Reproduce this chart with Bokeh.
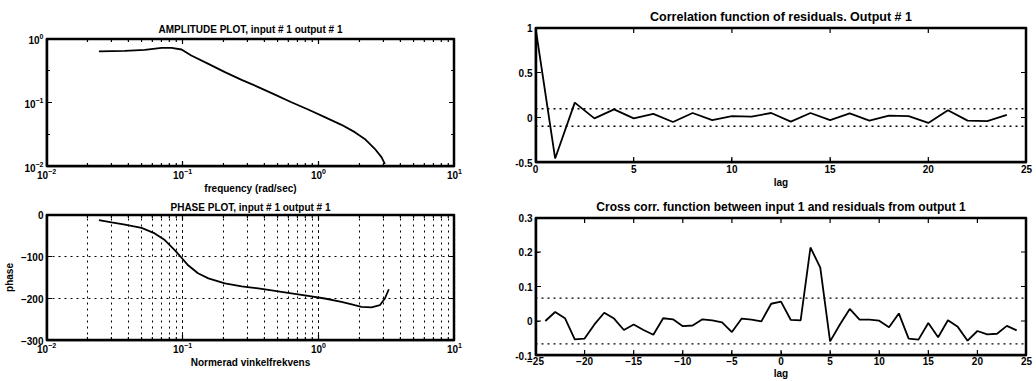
import math
from bokeh.plotting import figure
from bokeh.layouts import row, column
from bokeh.models import FixedTicker
from bokeh.embed import file_html
from bokeh.resources import INLINE

# ---------------- data ----------------
amp_freq = [0.0243, 0.0377, 0.0528, 0.0702, 0.083, 0.0984, 0.116, 0.155, 0.205, 0.272,
            0.361, 0.478, 0.632, 0.839, 1.112, 1.476, 1.849, 2.188, 2.594, 2.904, 3.076]
amp_mag = [0.627, 0.641, 0.665, 0.714, 0.714, 0.673, 0.542, 0.402, 0.298, 0.226,
           0.174, 0.133, 0.101, 0.0778, 0.059, 0.0448, 0.0344, 0.027, 0.0189, 0.014, 0.011]

ph_freq = [0.0243, 0.0301, 0.0377, 0.05, 0.0625, 0.0741, 0.0877, 0.0984, 0.110, 0.130,
           0.155, 0.205, 0.272, 0.361, 0.478, 0.632, 0.839, 1.112, 1.476, 1.849,
           2.07, 2.455, 2.825, 3.076, 3.289]
ph_deg = [-13.5, -19, -24, -32, -45, -61, -85, -103, -121, -140,
          -152, -164, -171, -176, -182, -188, -194, -200, -208, -216,
          -220, -221, -216, -200, -178]

corr_lag = list(range(0, 25))
corr_val = [1.0, -0.455, 0.165, -0.01, 0.09, -0.01, 0.04, -0.05, 0.05, -0.03,
            0.015, 0.01, 0.05, -0.045, 0.05, -0.03, 0.045, -0.035, 0.02, 0.015,
            -0.06, 0.08, -0.035, -0.04, 0.03]
corr_conf = 0.097

cross_lag = list(range(-24, 25))
cross_val = [0.0, 0.026, 0.008, -0.053, -0.051, -0.01, 0.024, 0.007, -0.026, -0.01,
             -0.026, -0.04, 0.008, 0.005, -0.015, -0.013, 0.005, 0.002, -0.004, -0.032,
             0.007, 0.004, -0.001, 0.05, 0.056, 0.003, 0.002, 0.213, 0.155, -0.059,
             -0.01, 0.035, 0.004, 0.004, 0.001, -0.018, 0.022, -0.051, -0.054, -0.006,
             -0.047, 0.002, -0.017, -0.057, -0.029, -0.039, -0.037, -0.014, -0.027]
cross_conf = 0.0665

# ranges and ticks
freq_range = (0.01, 10)
amp_range = (0.01, 1)
phase_range = (-300, 0)
corr_xrange = (0, 25)
corr_yrange = (-0.5, 1)
cross_xrange = (-25, 25)
cross_yrange = (-0.1, 0.3)

freq_ticks = [0.01, 0.1, 1, 10]
freq_minor = [m * d for d in (0.01, 0.1, 1) for m in range(2, 10)]
amp_yticks = [0.01, 0.1, 1]
amp_yminor = [0.0316, 0.316]
phase_yticks = [-300, -200, -100, 0]
corr_xticks = [0, 5, 10, 15, 20, 25]
corr_yticks = [-0.5, 0, 0.5, 1]
corr_ylabels = ["-0.5", "0", "0.5", "1"]
cross_xticks = [-25, -20, -15, -10, -5, 0, 5, 10, 15, 20, 25]
cross_yticks = [-0.1, 0, 0.1, 0.2, 0.3]
cross_ylabels = ["-0.1", "0", "0.1", "0.2", "0.3"]

FONT = "Liberation Sans"
FS = "10px"


def style_axis(ax, std=3, lstd=3):
    ax.axis_line_color = "black"
    ax.axis_line_width = 1.5
    ax.major_tick_in = 4
    ax.major_tick_out = 0
    ax.minor_tick_in = 2
    ax.minor_tick_out = 0
    ax.major_label_text_font = FONT
    ax.major_label_text_font_style = "bold"
    ax.major_label_text_font_size = FS
    ax.major_label_text_color = "black"
    ax.major_label_standoff = std
    ax.axis_label_text_font = FONT
    ax.axis_label_text_font_style = "bold"
    ax.axis_label_text_font_size = FS
    ax.axis_label_text_color = "black"
    ax.axis_label_standoff = lstd


def base_fig(title, title_size, standoff, **kw):
    p = figure(title=title, output_backend="svg", toolbar_location=None, **kw)
    p.title.align = "center"
    p.title.text_font = FONT
    p.title.text_font_style = "bold"
    p.title.text_font_size = title_size
    p.title.text_color = "black"
    p.title.standoff = standoff
    p.outline_line_color = "black"
    p.outline_line_width = 1.5
    return p


def shift(rng, px, npx, log, k):
    """Value that lies k screen pixels inside range end rng[0] (k>0) or rng[1] (k<0)."""
    lo, hi = rng
    if log:
        f = (hi / lo) ** (abs(k) / npx)
        return lo * f if k > 0 else hi / f
    d = (hi - lo) * abs(k) / npx
    return lo + d if k > 0 else hi - d


def add_frame(p, xr, yr, fw, fh, xlog, ylog, xmaj, ymaj, xmin=(), ymin=()):
    """Box just inside the frame edges and inward tick marks on all four sides."""
    x0 = shift(xr, 0, fw, xlog, 1)
    x1 = shift(xr, 0, fw, xlog, -1)
    y0 = shift(yr, 0, fh, ylog, 1)
    y1 = shift(yr, 0, fh, ylog, -1)
    p.line([x0, x1, x1, x0, x0], [y0, y0, y1, y1, y0], line_color="black", line_width=1.5)
    ty0 = (shift(yr, 0, fh, ylog, 3), shift(yr, 0, fh, ylog, -3))
    tx0 = (shift(xr, 0, fw, xlog, 3), shift(xr, 0, fw, xlog, -3))
    ty1 = (shift(yr, 0, fh, ylog, 2), shift(yr, 0, fh, ylog, -2))
    tx1 = (shift(xr, 0, fw, xlog, 2), shift(xr, 0, fw, xlog, -2))
    for vals, pos, size in ((list(xmaj), ty0, 5), (list(xmin), ty1, 3)):
        vals = [v for v in vals if xr[0] < v < xr[1]]
        if vals:
            for yv in pos:
                p.scatter(vals, [yv] * len(vals), marker="dash", size=size,
                          angle=math.pi / 2, line_color="black", line_width=1.2)
    for vals, pos, size in ((list(ymaj), tx0, 5), (list(ymin), tx1, 3)):
        vals = [v for v in vals if yr[0] < v < yr[1]]
        if vals:
            for xv in pos:
                p.scatter([xv] * len(vals), vals, marker="dash", size=size,
                          line_color="black", line_width=1.2)


# ---------------- amplitude ----------------
p1 = base_fig("AMPLITUDE PLOT, input # 1 output # 1", "10px", 8,
              x_axis_type="log", y_axis_type="log",
              x_range=freq_range, y_range=amp_range,
              frame_width=408, frame_height=128,
              min_border_left=45, min_border_right=47,
              min_border_top=38, min_border_bottom=29)
p1.grid.visible = False
p1.xaxis.axis_label = "frequency (rad/sec)"
p1.yaxis.ticker = FixedTicker(ticks=amp_yticks, minor_ticks=amp_yminor)
style_axis(p1.xaxis[0], std=1, lstd=1)
style_axis(p1.yaxis[0])
add_frame(p1, freq_range, amp_range, 408, 128, True, True,
          freq_ticks, amp_yticks, freq_minor, amp_yminor)
p1.line(amp_freq, amp_mag, line_color="black", line_width=1.8)

# ---------------- phase ----------------
p2 = base_fig("PHASE PLOT, input # 1 output # 1", "10px", 3,
              x_axis_type="log",
              x_range=freq_range, y_range=phase_range,
              frame_width=408, frame_height=126,
              min_border_left=45, min_border_right=47,
              min_border_top=18, min_border_bottom=34)
p2.xaxis.axis_label = "Normerad vinkelfrekvens"
p2.yaxis.axis_label = "phase"
p2.yaxis.ticker = FixedTicker(ticks=phase_yticks)
style_axis(p2.xaxis[0], std=1, lstd=1)
style_axis(p2.yaxis[0])
p2.xgrid.grid_line_color = "black"
p2.xgrid.grid_line_dash = "dotted"
p2.xgrid.minor_grid_line_color = "black"
p2.xgrid.minor_grid_line_dash = "dotted"
p2.ygrid.grid_line_color = "black"
p2.ygrid.grid_line_dash = "dotted"
add_frame(p2, freq_range, phase_range, 408, 126, True, False,
          freq_ticks, phase_yticks, freq_minor)
p2.line(ph_freq, ph_deg, line_color="black", line_width=1.8)

# ---------------- correlation ----------------
p3 = base_fig("Correlation function of residuals. Output # 1", "12.5px", 8,
              x_range=corr_xrange, y_range=corr_yrange,
              frame_width=491, frame_height=135,
              min_border_left=34, min_border_right=11,
              min_border_top=27, min_border_bottom=28)
p3.grid.visible = False
p3.xaxis.axis_label = "lag"
p3.xaxis.ticker = FixedTicker(ticks=corr_xticks)
p3.yaxis.ticker = FixedTicker(ticks=corr_yticks)
p3.yaxis.major_label_overrides = dict(zip(corr_yticks, corr_ylabels))
style_axis(p3.xaxis[0], std=2, lstd=1)
style_axis(p3.yaxis[0])
add_frame(p3, corr_xrange, corr_yrange, 491, 135, False, False, corr_xticks, corr_yticks)
p3.line(list(corr_xrange), [corr_conf, corr_conf], line_color="black", line_dash="dotted", line_width=1.3)
p3.line(list(corr_xrange), [-corr_conf, -corr_conf], line_color="black", line_dash="dotted", line_width=1.3)
p3.line(corr_lag, corr_val, line_color="black", line_width=1.8)

# ---------------- cross correlation ----------------
p4 = base_fig("Cross corr. function between input 1 and residuals from output 1", "12px", 8,
              x_range=cross_xrange, y_range=cross_yrange,
              frame_width=491, frame_height=138,
              min_border_left=34, min_border_right=11,
              min_border_top=27, min_border_bottom=24)
p4.grid.visible = False
p4.xaxis.axis_label = "lag"
p4.xaxis.ticker = FixedTicker(ticks=cross_xticks)
p4.yaxis.ticker = FixedTicker(ticks=cross_yticks)
p4.yaxis.major_label_overrides = dict(zip(cross_yticks, cross_ylabels))
style_axis(p4.xaxis[0], std=1, lstd=0)
style_axis(p4.yaxis[0])
add_frame(p4, cross_xrange, cross_yrange, 491, 138, False, False, cross_xticks, cross_yticks)
p4.line(list(cross_xrange), [cross_conf, cross_conf], line_color="black", line_dash="dotted", line_width=1.3)
p4.line(list(cross_xrange), [-cross_conf, -cross_conf], line_color="black", line_dash="dotted", line_width=1.3)
p4.line(cross_lag, cross_val, line_color="black", line_width=1.8)

layout = row(column(p1, p2), column(p3, p4))
open("out.html", "w").write(file_html(layout, INLINE))
